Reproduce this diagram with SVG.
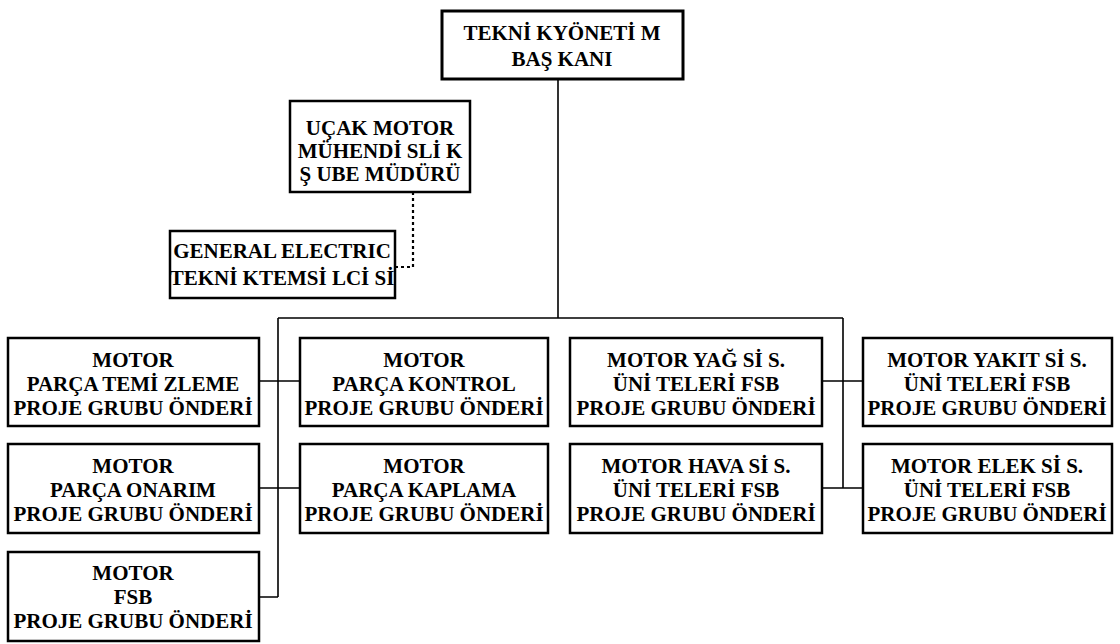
<svg xmlns="http://www.w3.org/2000/svg" width="1120" height="644" viewBox="0 0 1120 644">
<style>
.box{fill:#fff;stroke:#000;stroke-width:2.5}
.c{fill:none;stroke:#000;stroke-width:1.6}
.d{fill:none;stroke:#000;stroke-width:2.2;stroke-dasharray:3 3}
</style>
<rect width="1120" height="644" fill="#fff"/>
<g id="connectors">
<path class="c" d="M558 79V318M278 318H843M278 318V597M259 597H278M259 381H300M259 488H300M843 318V488M822 381H863M822 488H863"/>
<path class="d" d="M413 192V267H395"/>
</g>
<g id="n-top"><rect class="box" x="442" y="11" width="241" height="68" style="stroke-width:3"/>
<text font-family="Liberation Serif" font-size="21" font-weight="bold" text-anchor="middle" x="562" y="40">TEKNİ KYÖNETİ M</text>
<text font-family="Liberation Serif" font-size="21" font-weight="bold" text-anchor="middle" x="562" y="66">BAŞ KANI</text></g>
<g id="n-ucak"><rect class="box" x="290" y="101" width="180" height="91"/>
<text font-family="Liberation Serif" font-size="21" font-weight="bold" text-anchor="middle" x="380" y="135">UÇAK MOTOR</text>
<text font-family="Liberation Serif" font-size="21" font-weight="bold" text-anchor="middle" x="380" y="158">MÜHENDİ SLİ K</text>
<text font-family="Liberation Serif" font-size="21" font-weight="bold" text-anchor="middle" x="380" y="181">Ş UBE MÜDÜRÜ</text></g>
<g id="n-ge"><rect class="box" x="170" y="231" width="225" height="67"/>
<text font-family="Liberation Serif" font-size="21" font-weight="bold" text-anchor="middle" x="282" y="258">GENERAL ELECTRIC</text>
<text font-family="Liberation Serif" font-size="21" font-weight="bold" text-anchor="middle" x="282" y="285">TEKNİ KTEMSİ LCİ Sİ</text></g>
<g id="n-a1"><rect class="box" x="8" y="338" width="251" height="88"/>
<text font-family="Liberation Serif" font-size="21" font-weight="bold" text-anchor="middle" x="133" y="367">MOTOR</text>
<text font-family="Liberation Serif" font-size="21" font-weight="bold" text-anchor="middle" x="133" y="391">PARÇA TEMİ ZLEME</text>
<text font-family="Liberation Serif" font-size="21" font-weight="bold" text-anchor="middle" x="133" y="415">PROJE GRUBU ÖNDERİ</text></g>
<g id="n-b1"><rect class="box" x="300" y="338" width="248" height="88"/>
<text font-family="Liberation Serif" font-size="21" font-weight="bold" text-anchor="middle" x="424" y="367">MOTOR</text>
<text font-family="Liberation Serif" font-size="21" font-weight="bold" text-anchor="middle" x="424" y="391">PARÇA KONTROL</text>
<text font-family="Liberation Serif" font-size="21" font-weight="bold" text-anchor="middle" x="424" y="415">PROJE GRUBU ÖNDERİ</text></g>
<g id="n-c1"><rect class="box" x="570" y="338" width="252" height="88"/>
<text font-family="Liberation Serif" font-size="21" font-weight="bold" text-anchor="middle" x="696" y="367">MOTOR YAĞ Sİ S.</text>
<text font-family="Liberation Serif" font-size="21" font-weight="bold" text-anchor="middle" x="696" y="391">ÜNİ TELERİ FSB</text>
<text font-family="Liberation Serif" font-size="21" font-weight="bold" text-anchor="middle" x="696" y="415">PROJE GRUBU ÖNDERİ</text></g>
<g id="n-d1"><rect class="box" x="863" y="338" width="249" height="88"/>
<text font-family="Liberation Serif" font-size="21" font-weight="bold" text-anchor="middle" x="987" y="367">MOTOR YAKIT Sİ S.</text>
<text font-family="Liberation Serif" font-size="21" font-weight="bold" text-anchor="middle" x="987" y="391">ÜNİ TELERİ FSB</text>
<text font-family="Liberation Serif" font-size="21" font-weight="bold" text-anchor="middle" x="987" y="415">PROJE GRUBU ÖNDERİ</text></g>
<g id="n-a2"><rect class="box" x="8" y="444" width="251" height="89"/>
<text font-family="Liberation Serif" font-size="21" font-weight="bold" text-anchor="middle" x="133" y="473">MOTOR</text>
<text font-family="Liberation Serif" font-size="21" font-weight="bold" text-anchor="middle" x="133" y="497">PARÇA ONARIM</text>
<text font-family="Liberation Serif" font-size="21" font-weight="bold" text-anchor="middle" x="133" y="521">PROJE GRUBU ÖNDERİ</text></g>
<g id="n-b2"><rect class="box" x="300" y="444" width="248" height="89"/>
<text font-family="Liberation Serif" font-size="21" font-weight="bold" text-anchor="middle" x="424" y="473">MOTOR</text>
<text font-family="Liberation Serif" font-size="21" font-weight="bold" text-anchor="middle" x="424" y="497">PARÇA KAPLAMA</text>
<text font-family="Liberation Serif" font-size="21" font-weight="bold" text-anchor="middle" x="424" y="521">PROJE GRUBU ÖNDERİ</text></g>
<g id="n-c2"><rect class="box" x="570" y="444" width="252" height="89"/>
<text font-family="Liberation Serif" font-size="21" font-weight="bold" text-anchor="middle" x="696" y="473">MOTOR HAVA Sİ S.</text>
<text font-family="Liberation Serif" font-size="21" font-weight="bold" text-anchor="middle" x="696" y="497">ÜNİ TELERİ FSB</text>
<text font-family="Liberation Serif" font-size="21" font-weight="bold" text-anchor="middle" x="696" y="521">PROJE GRUBU ÖNDERİ</text></g>
<g id="n-d2"><rect class="box" x="863" y="444" width="249" height="89"/>
<text font-family="Liberation Serif" font-size="21" font-weight="bold" text-anchor="middle" x="987" y="473">MOTOR ELEK Sİ S.</text>
<text font-family="Liberation Serif" font-size="21" font-weight="bold" text-anchor="middle" x="987" y="497">ÜNİ TELERİ FSB</text>
<text font-family="Liberation Serif" font-size="21" font-weight="bold" text-anchor="middle" x="987" y="521">PROJE GRUBU ÖNDERİ</text></g>
<g id="n-a3"><rect class="box" x="8" y="552" width="251" height="89"/>
<text font-family="Liberation Serif" font-size="21" font-weight="bold" text-anchor="middle" x="133" y="580">MOTOR</text>
<text font-family="Liberation Serif" font-size="21" font-weight="bold" text-anchor="middle" x="133" y="604">FSB</text>
<text font-family="Liberation Serif" font-size="21" font-weight="bold" text-anchor="middle" x="133" y="628">PROJE GRUBU ÖNDERİ</text></g>
</svg>
